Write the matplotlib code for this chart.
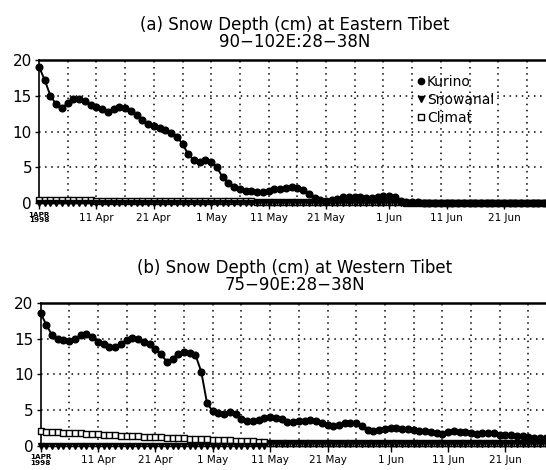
"""Snow depth over Eastern and Western Tibet, spring 1998."""

import matplotlib

matplotlib.use("Agg")
import matplotlib.pyplot as plt
import pandas as pd
from matplotlib.lines import Line2D

dates = pd.date_range("1998-04-01", "1998-06-30", freq="D")

# (a) Eastern Tibet, 90-102E:28-38N
east_kurino = [
    19.1, 17.2, 15.0, 13.8, 13.3, 14.0, 14.5, 14.6, 14.3, 13.7,
    13.4, 13.2, 12.8, 13.1, 13.5, 13.3, 12.9, 12.3, 11.6, 11.0,
    10.8, 10.5, 10.2, 9.8, 9.3, 8.3, 6.8, 6.0, 5.8, 6.0,
    5.8, 5.0, 3.6, 2.8, 2.3, 1.9, 1.7, 1.7, 1.6, 1.6,
    1.7, 1.9, 2.0, 2.1, 2.2, 2.1, 1.8, 1.2, 0.7, 0.4,
    0.35, 0.4, 0.6, 0.8, 0.9, 0.85, 0.8, 0.75, 0.7, 0.8,
    0.95, 1.0, 0.8, 0.3, 0.2, 0.15, 0.1, 0.05, 0.0, 0.0,
    0.0, 0.0, 0.0, 0.0, 0.0, 0.0, 0.0, 0.0, 0.0, 0.0,
    0.0, 0.0, 0.0, 0.0, 0.0, 0.0, 0.0, 0.0, 0.0, 0.0, 0.0,
]
east_snowanal = [
    0.05, 0.05, 0.05, 0.05, 0.05, 0.05, 0.05, 0.05, 0.05, 0.05,
    0.05, 0.05, 0.05, 0.05, 0.05, 0.05, 0.05, 0.05, 0.05, 0.05,
    0.05, 0.05, 0.05, 0.05, 0.05, 0.05, 0.05, 0.05, 0.05, 0.05,
    0.05, 0.05, 0.05, 0.05, 0.05, 0.05, 0.05, 0.05, 0.05, 0.05,
    0.05, 0.05, 0.05, 0.05, 0.05, 0.05, 0.05, 0.05, 0.05, 0.05,
    0.05, 0.05, 0.05, 0.05, 0.05, 0.05, 0.05, 0.05, 0.05, 0.05,
    0.0, 0.0, 0.0, 0.0, 0.0, 0.0, 0.0, 0.0, 0.0, 0.0,
    0.0, 0.0, 0.0, 0.0, 0.0, 0.0, 0.0, 0.0, 0.0, 0.0,
    0.0, 0.0, 0.0, 0.0, 0.0, 0.0, 0.0, 0.0, 0.0, 0.0, 0.0,
]
east_climat = [
    0.4, 0.4, 0.4, 0.38, 0.38, 0.38, 0.37, 0.37, 0.36, 0.36,
    0.35, 0.35, 0.34, 0.34, 0.33, 0.33, 0.32, 0.32, 0.31, 0.31,
    0.3, 0.3, 0.29, 0.29, 0.28, 0.28, 0.27, 0.27, 0.26, 0.26,
    0.25, 0.25, 0.24, 0.24, 0.23, 0.23, 0.22, 0.22, 0.21, 0.21,
    0.2, 0.2, 0.19, 0.19, 0.18, 0.18, 0.17, 0.17, 0.16, 0.16,
    0.15, 0.15, 0.14, 0.14, 0.13, 0.13, 0.12, 0.12, 0.11, 0.11,
    0.1, 0.1, 0.08, 0.08, 0.06, 0.06, 0.05, 0.05, 0.04, 0.04,
    0.03, 0.03, 0.03, 0.02, 0.02, 0.02, 0.02, 0.01, 0.01, 0.01,
    0.01, 0.01, 0.0, 0.0, 0.0, 0.0, 0.0, 0.0, 0.0, 0.0, 0.0,
]

# (b) Western Tibet, 75-90E:28-38N
west_kurino = [
    18.6, 17.0, 15.5, 15.0, 14.8, 14.7, 15.0, 15.5, 15.6, 15.3,
    14.5, 14.2, 13.9, 13.8, 14.3, 14.8, 15.1, 15.0, 14.6, 14.2,
    13.6, 12.8, 11.8, 12.2, 12.9, 13.1, 13.0, 12.7, 10.4, 6.0,
    4.8, 4.6, 4.5, 4.7, 4.5, 3.8, 3.4, 3.4, 3.6, 3.9,
    4.0, 3.9, 3.7, 3.3, 3.3, 3.4, 3.5, 3.6, 3.4, 3.2,
    2.9, 2.8, 2.9, 3.1, 3.2, 3.1, 2.7, 2.2, 2.1, 2.2,
    2.3, 2.4, 2.4, 2.3, 2.3, 2.2, 2.1, 2.0, 1.9, 1.8,
    1.65, 1.9, 2.0, 1.9, 1.85, 1.75, 1.65, 1.7, 1.75, 1.7,
    1.55, 1.5, 1.45, 1.4, 1.35, 1.25, 1.1, 1.05, 1.0, 1.0, 0.95,
]
west_snowanal = [
    0.0, 0.0, 0.0, 0.0, 0.0, 0.0, 0.0, 0.0, 0.0, 0.0,
    0.0, 0.0, 0.0, 0.0, 0.0, 0.0, 0.0, 0.0, 0.0, 0.0,
    0.0, 0.0, 0.0, 0.0, 0.0, 0.0, 0.0, 0.0, 0.0, 0.0,
    0.0, 0.0, 0.0, 0.0, 0.0, 0.0, 0.0, 0.0, 0.0, 0.0,
    0.2, 0.2, 0.2, 0.2, 0.2, 0.2, 0.2, 0.2, 0.2, 0.2,
    0.2, 0.2, 0.2, 0.2, 0.2, 0.2, 0.2, 0.2, 0.2, 0.2,
    0.2, 0.2, 0.2, 0.2, 0.2, 0.2, 0.2, 0.2, 0.2, 0.2,
    0.2, 0.2, 0.2, 0.2, 0.2, 0.2, 0.2, 0.2, 0.2, 0.2,
    0.2, 0.2, 0.2, 0.2, 0.2, 0.2, 0.2, 0.2, 0.2, 0.2, 0.2,
]
west_climat = [
    2.0, 1.95, 1.9, 1.85, 1.8, 1.78, 1.75, 1.7, 1.65, 1.6,
    1.58, 1.55, 1.5, 1.45, 1.4, 1.38, 1.35, 1.3, 1.27, 1.23,
    1.2, 1.15, 1.1, 1.07, 1.03, 1.0, 0.97, 0.93, 0.9, 0.87,
    0.83, 0.8, 0.77, 0.73, 0.7, 0.67, 0.63, 0.6, 0.57, 0.53,
    0.3, 0.3, 0.3, 0.3, 0.3, 0.3, 0.3, 0.3, 0.3, 0.3,
    0.3, 0.3, 0.3, 0.3, 0.3, 0.3, 0.3, 0.3, 0.3, 0.3,
    0.3, 0.3, 0.3, 0.3, 0.3, 0.3, 0.3, 0.3, 0.3, 0.3,
    0.3, 0.3, 0.3, 0.3, 0.3, 0.3, 0.3, 0.3, 0.3, 0.3,
    0.3, 0.3, 0.3, 0.3, 0.3, 0.3, 0.3, 0.3, 0.3, 0.3, 0.3,
]

titles = [
    "(a) Snow Depth (cm) at Eastern Tibet\n90\u2212102E:28\u221238N",
    "(b) Snow Depth (cm) at Western Tibet\n75\u221290E:28\u221238N",
]
tick_dates = pd.to_datetime([
    "1998-04-01", "1998-04-11", "1998-04-21", "1998-05-01", "1998-05-11",
    "1998-05-21", "1998-06-01", "1998-06-11", "1998-06-21",
])
tick_labels = ["", "11 Apr", "21 Apr", "1 May", "11 May",
               "21 May", "1 Jun", "11 Jun", "21 Jun"]
series_labels = ["Kurino", "Snowanal", "Climat"]

plt.rcParams["font.family"] = ["DejaVu Sans"]

fig = plt.figure(figsize=(5.46, 4.70), dpi=100)
px_day = 5.74 / 546
ax_a = fig.add_axes([39 / 546, 0.568, 90 * px_day, 0.304])
ax_b = fig.add_axes([40.5 / 546, 0.052, 90 * px_day, 0.303])

panels = [
    (ax_a, east_kurino, east_snowanal, east_climat, titles[0]),
    (ax_b, west_kurino, west_snowanal, west_climat, titles[1]),
]

for ax, kurino, snowanal, climat, title in panels:
    ax.set_xlim(dates[0], dates[-1])
    ax.set_ylim(0, 20)

    # dotted grid every 5 days and every 5 cm
    for d in pd.date_range("1998-04-06", "1998-06-30", freq="5D"):
        ax.axvline(d, color="black", linestyle=(0, (1, 3)), linewidth=1.1, zorder=1)
    for y in [5, 10, 15]:
        ax.axhline(y, color="black", linestyle=(0, (1, 3)), linewidth=1.1, zorder=1)

    ax.plot(dates, climat, color="black", marker="s", markersize=4.8,
            markerfacecolor="white", markeredgewidth=1.0, linewidth=0.6,
            clip_on=False, zorder=3)
    ax.plot(dates, snowanal, color="black", marker="v", markersize=3.8,
            linestyle="none", clip_on=False, zorder=4)
    ax.plot(dates, kurino, color="black", marker="o", markersize=4.8,
            linewidth=1.4, clip_on=False, zorder=5)

    ax.set_xticks(tick_dates)
    ax.set_xticklabels(tick_labels, fontsize=7.5)
    ax.set_yticks([0, 5, 10, 15, 20])
    ax.set_yticklabels(["0", "5", "10", "15", "20"], fontsize=11)
    ax.tick_params(axis="x", direction="out", length=4, width=1, pad=3)
    ax.tick_params(axis="y", direction="out", length=3, width=1, pad=2)
    ax.text(dates[0], -0.06, "1APR\n1998", transform=ax.get_xaxis_transform(),
            ha="center", va="top", fontsize=5.2, fontweight="bold",
            linespacing=0.9)

    ax.spines["top"].set_linewidth(1.8)
    ax.spines["left"].set_linewidth(1.2)
    ax.spines["bottom"].set_linewidth(1.0)
    ax.spines["right"].set_visible(False)

    top = ax.get_position().y1
    fig.text(0.54, top + 0.056, title, ha="center", va="center",
             fontsize=12, linespacing=0.95)

handles = [
    Line2D([], [], color="black", marker="o", markersize=4.5, linestyle="none"),
    Line2D([], [], color="black", marker="v", markersize=4.5, linestyle="none"),
    Line2D([], [], color="black", marker="s", markersize=4.5,
           markerfacecolor="white", linestyle="none"),
]
fig.legend(handles, series_labels, loc="upper left",
           bbox_to_anchor=(418 / 546, 1 - 75 / 470), frameon=False,
           fontsize=10, handlelength=0.5, handletextpad=0.15,
           borderpad=0, borderaxespad=0, labelspacing=0.3)

fig.savefig("out.png", dpi=100)
